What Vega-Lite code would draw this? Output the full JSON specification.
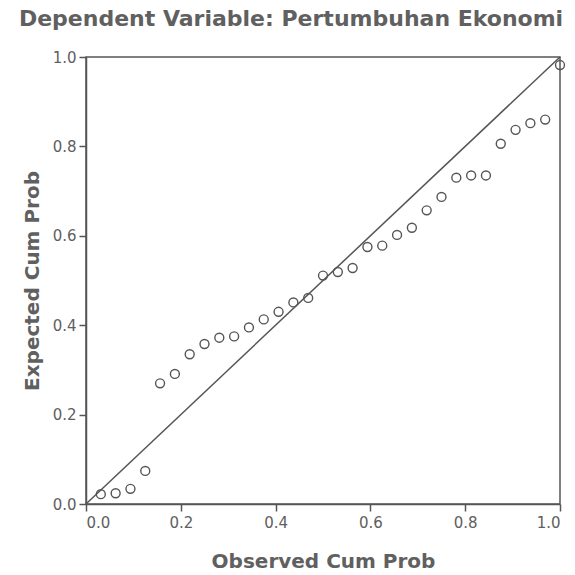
{
  "$schema": "https://vega.github.io/schema/vega-lite/v6.json",
  "autosize": {"type": "none"},
  "padding": {"left": 86, "top": 57, "right": 15, "bottom": 71},
  "width": 474,
  "height": 447,
  "background": "white",
  "title": {
    "text": "Dependent Variable: Pertumbuhan Ekonomi",
    "anchor": "middle",
    "dx": -32,
    "offset": 19,
    "font": "DejaVu Sans",
    "fontSize": 22,
    "fontWeight": "bold",
    "color": "#606060"
  },
  "config": {
    "view": {"stroke": "#555", "strokeWidth": 1.5},
    "axis": {
      "grid": false,
      "domainColor": "#555",
      "domainWidth": 1.5,
      "tickColor": "#555",
      "tickWidth": 1.5,
      "tickSize": 7,
      "labelFont": "DejaVu Sans",
      "labelFontSize": 15,
      "labelColor": "#606060",
      "titleFont": "DejaVu Sans",
      "titleFontSize": 20,
      "titleFontWeight": "bold",
      "titleColor": "#606060"
    }
  },
  "datasets": {
    "pts": [
      {"obs": 0.03125, "exp": 0.022},
      {"obs": 0.0625, "exp": 0.024},
      {"obs": 0.09375, "exp": 0.034},
      {"obs": 0.125, "exp": 0.074},
      {"obs": 0.15625, "exp": 0.270},
      {"obs": 0.1875, "exp": 0.291},
      {"obs": 0.21875, "exp": 0.335},
      {"obs": 0.25, "exp": 0.358},
      {"obs": 0.28125, "exp": 0.372},
      {"obs": 0.3125, "exp": 0.375},
      {"obs": 0.34375, "exp": 0.395},
      {"obs": 0.375, "exp": 0.413},
      {"obs": 0.40625, "exp": 0.430},
      {"obs": 0.4375, "exp": 0.451},
      {"obs": 0.46875, "exp": 0.461},
      {"obs": 0.5, "exp": 0.511},
      {"obs": 0.53125, "exp": 0.519},
      {"obs": 0.5625, "exp": 0.528},
      {"obs": 0.59375, "exp": 0.575},
      {"obs": 0.625, "exp": 0.578},
      {"obs": 0.65625, "exp": 0.602},
      {"obs": 0.6875, "exp": 0.618},
      {"obs": 0.71875, "exp": 0.657},
      {"obs": 0.75, "exp": 0.687},
      {"obs": 0.78125, "exp": 0.730},
      {"obs": 0.8125, "exp": 0.735},
      {"obs": 0.84375, "exp": 0.735},
      {"obs": 0.875, "exp": 0.806},
      {"obs": 0.90625, "exp": 0.837},
      {"obs": 0.9375, "exp": 0.852},
      {"obs": 0.96875, "exp": 0.860},
      {"obs": 1.0, "exp": 0.982}
    ],
    "diag": [
      {"obs": 0, "exp": 0},
      {"obs": 1, "exp": 1}
    ]
  },
  "layer": [
    {
      "data": {"name": "diag"},
      "mark": {"type": "line", "color": "#555", "strokeWidth": 1.5},
      "encoding": {
        "x": {"field": "obs", "type": "quantitative"},
        "y": {"field": "exp", "type": "quantitative"}
      }
    },
    {
      "data": {"name": "pts"},
      "mark": {"type": "point", "shape": "circle", "filled": false, "color": "#555", "strokeWidth": 1.4, "size": 80, "opacity": 1},
      "encoding": {
        "x": {
          "field": "obs", "type": "quantitative",
          "scale": {"domain": [0, 1], "nice": false, "zero": false},
          "axis": {"title": "Observed Cum Prob", "values": [0, 0.2, 0.4, 0.6, 0.8, 1.0], "format": ".1f", "labelPadding": 4, "titlePadding": 21}
        },
        "y": {
          "field": "exp", "type": "quantitative",
          "scale": {"domain": [0, 1], "nice": false, "zero": false},
          "axis": {"title": "Expected Cum Prob", "values": [0, 0.2, 0.4, 0.6, 0.8, 1.0], "format": ".1f", "labelPadding": 3, "titlePadding": 10}
        }
      }
    }
  ]
}
